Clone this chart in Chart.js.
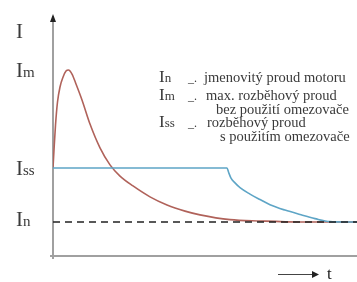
<!DOCTYPE html>
<html>
<head>
<meta charset="utf-8">
<script src="https://cdn.jsdelivr.net/npm/chart.js@4"></script>
<style>
  html, body { margin: 0; padding: 0; background: #fff; }
  #box { width: 357px; height: 282px; }
</style>
</head>
<body>
<div id="box"><canvas id="graf"></canvas></div>
<script>
// proud bez omezovace (cervena)
var casBez   = [0, 0.1, 0.25, 0.45, 0.7, 1.0, 1.3, 1.55, 1.9, 2.3, 2.9, 3.7, 4.7, 5.7, 6.7, 8.0, 9.7, 11.4, 13.2, 14.7, 17.7, 20.7, 24.7, 30.4];
var proudBez = [2.59, 3.12, 3.85, 4.53, 4.97, 5.26, 5.44, 5.47, 5.35, 5.06, 4.59, 3.88, 3.18, 2.68, 2.35, 2.06, 1.74, 1.5, 1.32, 1.21, 1.07, 1.03, 1.0, 1.0];
// proud s omezovacem (modra)
var casS   = [0, 17.4, 17.55, 17.8, 18.2, 18.7, 19.7, 20.7, 21.7, 23.2, 24.7, 26.2, 27.7, 29.2, 30.4];
var proudS = [2.59, 2.59, 2.47, 2.29, 2.15, 2.01, 1.82, 1.66, 1.51, 1.35, 1.22, 1.1, 1.01, 1.0, 1.0];
// jmenovity proud (carkovana)
var casN   = [0, 30.4];
var proudN = [1, 1];
// urovne na ose I
var urovne = [["I", "m", 5.47], ["I", "ss", 2.59], ["I", "n", 1.0]];
var legenda = [
    ["I", "n", "jmenovitý proud motoru", ""],
    ["I", "m", "max. rozběhový proud", "bez použití omezovače"],
    ["I", "ss", "rozběhový proud", "s použitím omezovače"]
];

function body(t, v){
    var out = [];
    for(var i in t) out.push({x: t[i], y: v[i]});
    return out;
}

var serif = "'Liberation Serif', 'DejaVu Serif', serif";

function indexText(ctx, x, y, a, b, s1, s2){
    ctx.font = s1 + "px " + serif;
    ctx.fillText(a, x, y);
    var w = ctx.measureText(a).width;
    ctx.font = s2 + "px " + serif;
    ctx.fillText(b, x + w, y);
}

var popisky = {
    id: "popisky",
    beforeDatasetsDraw: function(chart){
        var ctx = chart.ctx, a = chart.chartArea;
        ctx.save();
        // osa I
        ctx.strokeStyle = "#a0a0a0";
        ctx.lineWidth = 2;
        ctx.beginPath();
        ctx.moveTo(a.left, a.top - 2);
        ctx.lineTo(a.left, a.bottom + 3);
        ctx.stroke();
        // osa t
        ctx.beginPath();
        ctx.moveTo(a.left - 3, a.bottom);
        ctx.lineTo(357, a.bottom);
        ctx.stroke();
        ctx.fillStyle = "#222";
        ctx.beginPath();
        ctx.moveTo(a.left - 3, a.top + 4);
        ctx.lineTo(a.left, a.top - 4);
        ctx.lineTo(a.left + 3, a.top + 4);
        ctx.fill();
        ctx.restore();
    },
    afterDraw: function(chart){
        var ctx = chart.ctx, ys = chart.scales.y;
        ctx.save();
        ctx.fillStyle = "#3a3a3a";
        ctx.textBaseline = "alphabetic";
        ctx.font = "21px " + serif;
        ctx.fillText("I", 16, 38);
        var posun = [7, 7, 4];
        for(var i in urovne){
            var py = ys.getPixelForValue(urovne[i][2]);
            indexText(ctx, 16, py + posun[i], urovne[i][0], urovne[i][1], 21, 15);
        }
        // legenda
        var radky = [82, 100, 127];
        var xPopis = [[204, 0], [206, 216], [207, 220]];
        for(var j in legenda){
            var by = radky[j];
            indexText(ctx, 159, by, legenda[j][0], legenda[j][1], 17, 13);
            ctx.font = "12px " + serif;
            ctx.fillText("_.", 188, by);
            ctx.font = "14.5px " + serif;
            ctx.fillText(legenda[j][2], xPopis[j][0], by);
            if(legenda[j][3] != "")
                ctx.fillText(legenda[j][3], xPopis[j][1], by + 14);
        }
        // sipka t
        ctx.strokeStyle = "#444";
        ctx.lineWidth = 1;
        ctx.beginPath();
        ctx.moveTo(278, 274.5);
        ctx.lineTo(313, 274.5);
        ctx.stroke();
        ctx.fillStyle = "#222";
        ctx.beginPath();
        ctx.moveTo(312, 271);
        ctx.lineTo(319, 274.5);
        ctx.lineTo(312, 278);
        ctx.fill();
        ctx.font = "17px " + serif;
        ctx.fillText("t", 327, 279);
        ctx.restore();
    }
};

new Chart(document.getElementById("graf"), {
    type: "line",
    data: {
        datasets: [{
            data: body(casN, proudN),
            borderColor: "#222",
            borderWidth: 1.5,
            borderDash: [7, 5],
            pointRadius: 0
        }, {
            data: body(casS, proudS),
            borderColor: "#5ea5c6",
            borderWidth: 1.6,
            pointRadius: 0,
            cubicInterpolationMode: "monotone"
        }, {
            data: body(casBez, proudBez),
            borderColor: "#b0625a",
            borderWidth: 1.6,
            pointRadius: 0,
            cubicInterpolationMode: "monotone"
        }]
    },
    options: {
        responsive: true,
        maintainAspectRatio: false,
        animation: false,
        layout: { padding: { left: 53, right: 0, top: 18, bottom: 26 } },
        plugins: { legend: { display: false }, tooltip: { enabled: false } },
        scales: {
            x: { type: "linear", display: false, min: 0, max: 30.4 },
            y: { display: false, min: 0, max: 7 }
        }
    },
    plugins: [popisky]
});
</script>
</body>
</html>
